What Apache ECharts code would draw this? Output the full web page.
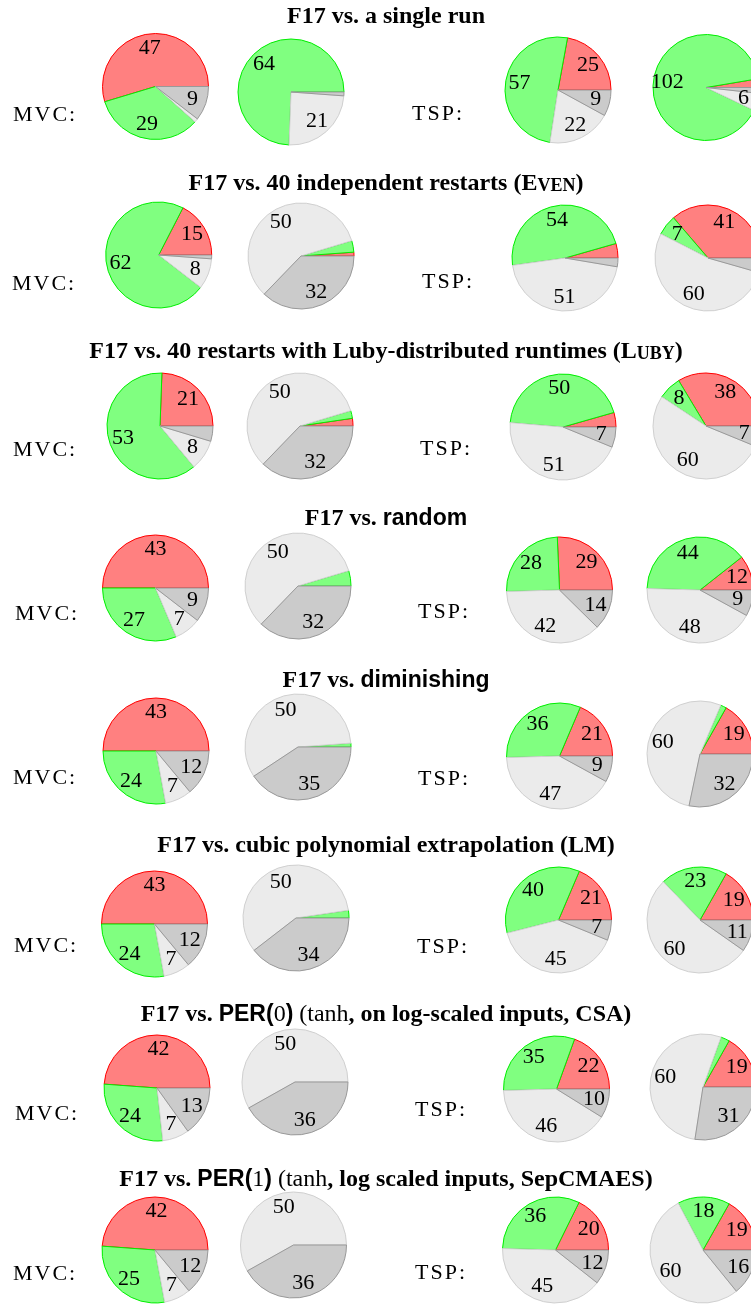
<!DOCTYPE html>
<html><head><meta charset="utf-8">
<script src="https://cdn.jsdelivr.net/npm/echarts@6/dist/echarts.min.js"></script>
<style>html,body{margin:0;padding:0;background:#fff}#c{width:751px;height:1304px}</style>
</head><body><div id="c"></div>
<script>
// Slice categories, drawn counter-clockwise from 3 o'clock in this order
const categories = ['worse', 'better', 'tieLight', 'tieDark'];

// One row per comparison; each entry = [worse, better, tieLight, tieDark]
const mvcLeft  = [[47,29,1,9],[15,62,8,1],[21,53,8,4],[43,27,7,9],[43,24,7,12],[43,24,7,12],[42,24,7,13],[42,25,7,12]];
const mvcRight = [[0,64,21,1],[1,3,50,32],[2,2,50,32],[0,4,50,32],[0,1,50,35],[0,2,50,34],[0,0,50,36],[0,0,50,36]];
const tspLeft  = [[25,57,22,9],[5,54,51,3],[5,50,51,7],[29,28,42,14],[21,36,47,9],[21,40,45,7],[22,35,46,10],[20,36,45,12]];
const tspRight = [[3,102,6,2],[41,7,60,5],[38,8,60,7],[12,44,48,9],[19,2,60,32],[19,23,60,11],[19,3,60,31],[19,18,60,16]];

const rowTitles = [
  '{b|F17 vs. a single run}',
  '{b|F17 vs. 40 independent restarts (E}{sc|VEN}{b|)}',
  '{b|F17 vs. 40 restarts with Luby-distributed runtimes (L}{sc|UBY}{b|)}',
  '{b|F17 vs. }{s|random}',
  '{b|F17 vs. }{s|diminishing}',
  '{b|F17 vs. cubic polynomial extrapolation (LM)}',
  '{b|F17 vs. }{s|PER(}{m|0}{s|)}{b| }{m|(tanh}{b|, on log-scaled inputs, CSA)}',
  '{b|F17 vs. }{s|PER(}{m|1}{s|)}{b| }{m|(tanh}{b|, log scaled inputs, SepCMAES)}'
];
const problemLabels = ['MVC:', 'TSP:'];

// ---- layout (pixels) ----
const R = 53;
const pieCenters = [
  [[155.5,86.5],[291,92],[558,90],[706,87.5]],
  [[158.7,255],[301,256],[565,258],[708,258]],
  [[160,426],[300,426],[563,427],[706,426]],
  [[155.5,588],[298,586],[559.5,590],[700,590]],
  [[156,751],[298,747],[559.5,756],[700,754]],
  [[154.5,924],[296,918],[558.5,920],[700,920]],
  [[157,1088],[295,1082],[556.5,1089],[703,1087]],
  [[155,1250],[293.5,1245],[555.5,1250],[703,1250]]
];
const titleY = [17,184,352,519,681,845.5,1015,1179.5];
const titleX = 386;
const mvcLabelPos = [[13,115],[12,284],[13,450],[15,614],[13,778],[14,946],[15,1114],[13,1274]];
const tspLabelPos = [[412,114],[422,282],[420,449],[418,612],[418,779],[417,947],[415,1110],[415,1273]];

const sliceStyles = {
  worse:    {color:'#ff8080', borderColor:'#ff0000', borderWidth:1},
  better:   {color:'#80ff80', borderColor:'#00ee00', borderWidth:1},
  tieLight: {color:'#ebebeb', borderColor:'#d0d0d0', borderWidth:1},
  tieDark:  {color:'#cbcbcb', borderColor:'#999999', borderWidth:1}
};

function pieSeries(values, center) {
  const data = [];
  values.forEach((v, k) => {
    if (v > 0) data.push({name: categories[k], value: v, itemStyle: sliceStyles[categories[k]]});
  });
  return [{
    type: 'pie', center: center, radius: [0, R], startAngle: 0, clockwise: false,
    data: data, label: {show: false}, labelLine: {show: false}, silent: true
  }, {
    type: 'pie', center: center, radius: [R * 0.36, R], startAngle: 0, clockwise: false,
    data: data.map(d => ({name: d.name, value: d.value, itemStyle: {color: 'rgba(0,0,0,0)', borderWidth: 0}})),
    label: {show: true, position: 'inside', rotate: 0,
      formatter: p => (p.value >= 6 ? String(p.value) : ''),
      fontFamily: 'Liberation Serif', fontSize: 22, color: '#000'},
    labelLine: {show: false}, silent: true
  }];
}

const series = [];
const cols = [mvcLeft, mvcRight, tspLeft, tspRight];
for (let i = 0; i < 8; i++) {
  cols.forEach((col, c) => { series.push(...pieSeries(col[i], pieCenters[i][c])); });
}

const richStyles = {
  b:  {fontFamily: 'Liberation Serif', fontWeight: 'bold', fontSize: 24, lineHeight: 28, color: '#000'},
  sc: {fontFamily: 'Liberation Serif', fontWeight: 'bold', fontSize: 18, lineHeight: 28, color: '#000', verticalAlign: 'bottom', padding: [0,0,3,0]},
  s:  {fontFamily: 'Liberation Sans', fontWeight: 'bold', fontSize: 23, lineHeight: 28, color: '#000'},
  m:  {fontFamily: 'Liberation Serif', fontWeight: 'normal', fontSize: 24, lineHeight: 28, color: '#000'}
};
const labelRich = {
  l: {fontFamily: 'Liberation Serif', fontSize: 22, color: '#000', padding: [0, 2, 0, 0]}
};
// spaced letters: same text, rendered one glyph per token
function spaced(s) { return s.split('').map(ch => '{l|' + ch + '}').join(''); }

const graphics = [];
rowTitles.forEach((t, i) => {
  graphics.push({type: 'text', x: titleX, y: titleY[i], silent: true,
    style: {text: t, rich: richStyles, align: 'center', verticalAlign: 'middle'}});
  graphics.push({type: 'text', x: mvcLabelPos[i][0], y: mvcLabelPos[i][1], silent: true,
    style: {text: spaced(problemLabels[0]), rich: labelRich, align: 'left', verticalAlign: 'middle'}});
  graphics.push({type: 'text', x: tspLabelPos[i][0], y: tspLabelPos[i][1], silent: true,
    style: {text: spaced(problemLabels[1]), rich: labelRich, align: 'left', verticalAlign: 'middle'}});
});

const chart = echarts.init(document.getElementById('c'), null, {renderer: 'canvas'});
chart.setOption({animation: false, backgroundColor: '#fff', series: series, graphic: graphics});
</script></body></html>
